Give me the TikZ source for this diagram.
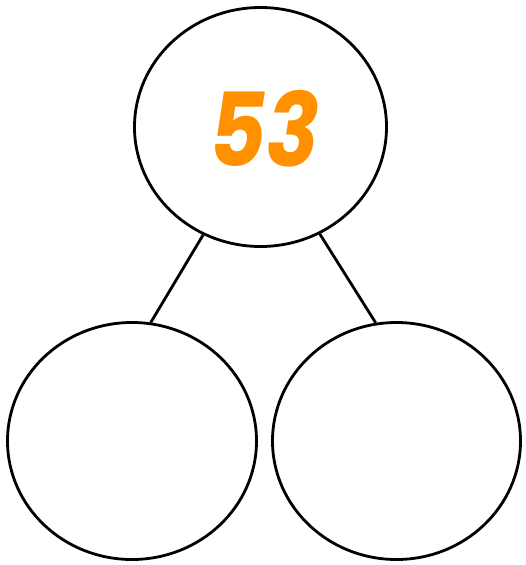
\documentclass[tikz,border=0pt]{standalone}
\usepackage{fontspec}
\newfontfamily\numfont{Poppins}
\usetikzlibrary{shapes.geometric}
\definecolor{numorange}{HTML}{FF9100}
\tikzset{
  bubble/.style={ellipse, draw=black, line width=2.8pt, fill=white, inner sep=0pt},
  bigbubble/.style={bubble, minimum width=251pt, minimum height=238pt},
  link/.style={draw=black, line width=2.8pt},
  numlabel/.style={text=numorange, font=\numfont\bfseries\itshape\fontsize{102}{102}\selectfont, inner sep=0pt, xscale=0.86}
}
\begin{document}
\begin{tikzpicture}[x=1pt,y=-1pt]
\useasboundingbox (0,0) rectangle (525,565);
\node[bigbubble, minimum width=252pt, minimum height=239pt] (top) at (260.5,127) {};
\node[bigbubble, minimum width=249pt, minimum height=237pt] (left) at (132,441) {};
\node[bigbubble, minimum width=248pt, minimum height=237pt] (right) at (396.5,441) {};
\node[numlabel] (num) at (265,129) {53};
\draw[link] (top.242) -- (left.81);
\draw[link] (top.299) -- (right.100);
\end{tikzpicture}
\end{document}
